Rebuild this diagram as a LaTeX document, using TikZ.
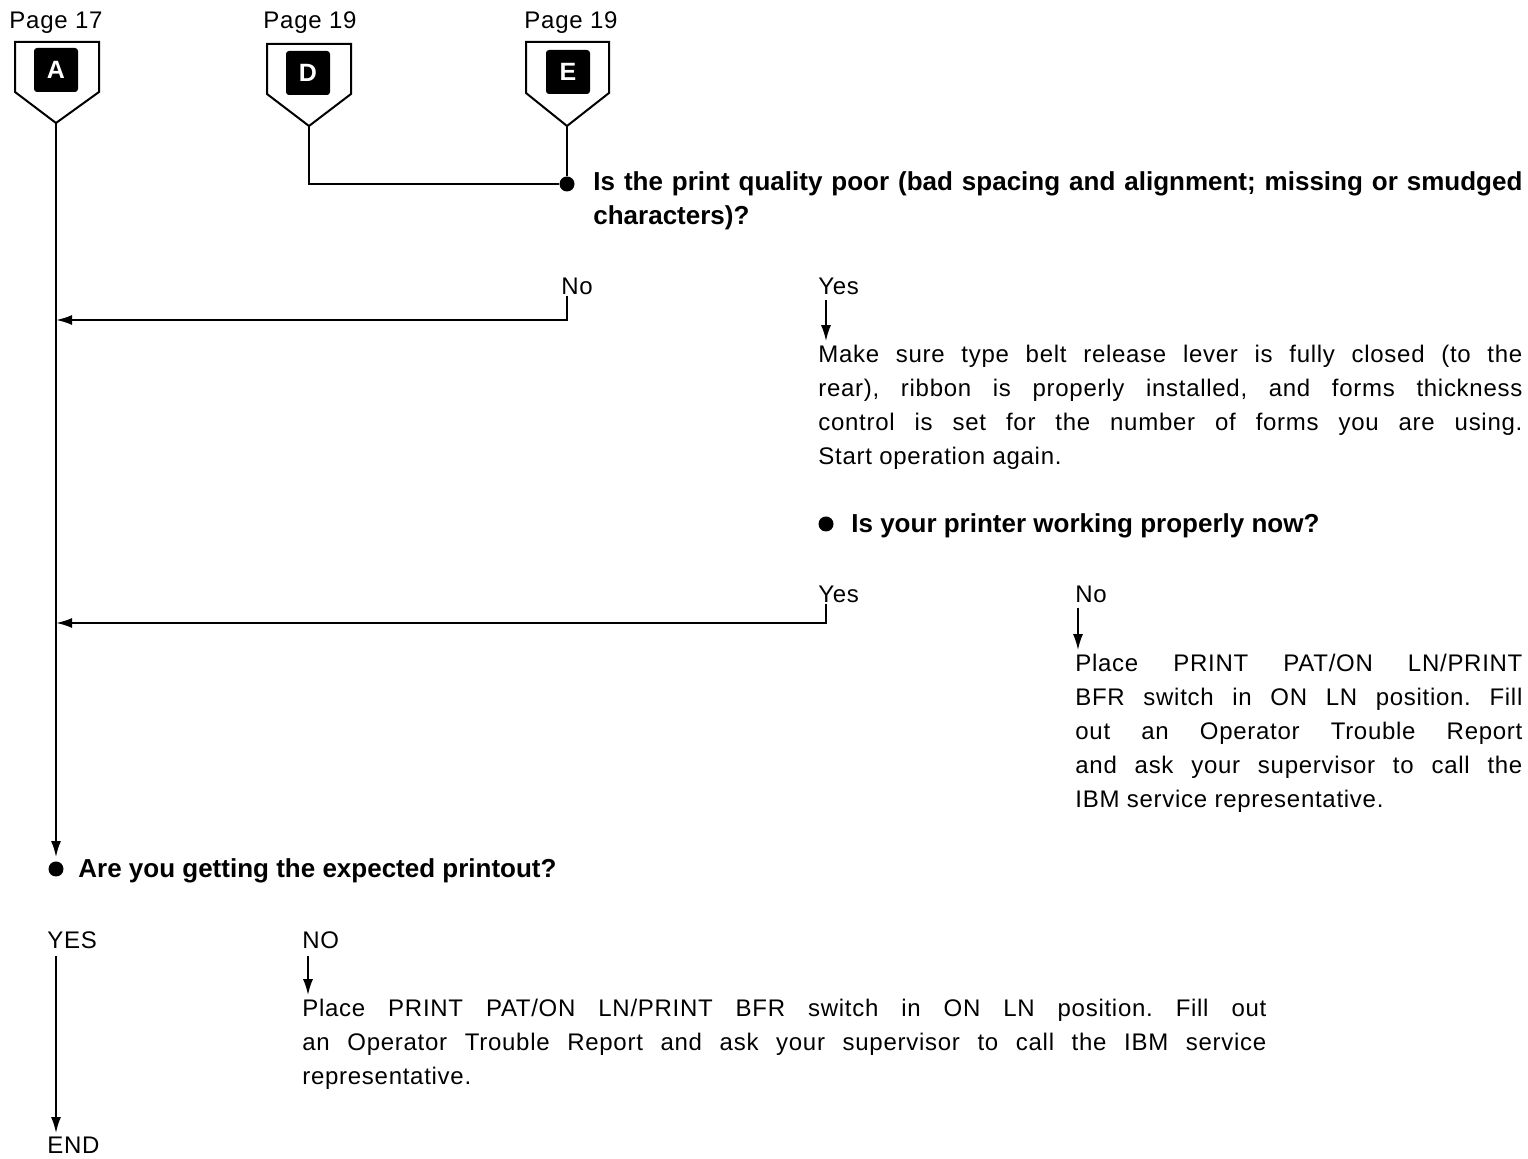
\documentclass[tikz,border=0pt]{standalone}
\usepackage{fontspec}
\setmainfont{Liberation Sans}
\usetikzlibrary{arrows.meta}
\frenchspacing
\tikzset{every node/.style={inner sep=0pt}}
\tikzset{txt/.style={font=\fontsize{12}{17}\selectfont\addfontfeature{LetterSpace=3},anchor=base west}}
\tikzset{qtxt/.style={font=\fontsize{13}{17}\selectfont\bfseries,anchor=base west}}
\tikzset{para/.style={txt,align=justify}}
\tikzset{letterbox/.style={fill=black,text=white,minimum size=22pt,rounded corners=1.5pt,font=\fontsize{12.5}{12.5}\selectfont\bfseries}}
\tikzset{dot/.style={circle,fill=black,minimum size=7.5pt}}
\tikzset{line/.style={line width=1pt}}
\tikzset{flow/.style={line width=1pt,-{Latex[length=8pt,width=5pt]},shorten >=2pt}}

\begin{document}
\begin{tikzpicture}[x=0.5pt,y=-0.5pt]
\useasboundingbox (0,0) rectangle (1528,1159);
% off-page connectors
\node[txt,anchor=base] (pa) at (56,29) {Page 17};
\node[txt,anchor=base] (pd) at (310,29) {Page 19};
\node[txt,anchor=base] (pe) at (571,29) {Page 19};
\draw[line] (15,42) -- (99,42) -- (99,92) -- (56,123) coordinate (A) -- (15,92) -- cycle;
\draw[line] (267,44) -- (351,44) -- (351,94) -- (309,126) coordinate (D) -- (267,94) -- cycle;
\draw[line] (526,42) -- (609,42) -- (609,93) -- (567,126) coordinate (E) -- (526,93) -- cycle;
\node[letterbox] (la) at (56,70) {A};
\node[letterbox] (ld) at (308,73) {D};
\node[letterbox] (le) at (568,72) {E};
% first question
\node[dot] (q1dot) at (567,184) {};
\node[qtxt,text width=464.5pt,align=justify] (q1) at (593,191) {Is the print quality poor (bad spacing and alignment; missing or smudged\linebreak characters)?};
\draw[line] (D) -- (D |- q1dot) -- (q1dot);
\draw[line] (E) -- (q1dot);
\node[txt] (no1) at (561,295) {No};
\node[txt] (yes1) at (818,295) {Yes};
\coordinate (m1) at (56,320);
\draw[flow,shorten >=0pt] (q1dot |- no1.south) -- (q1dot |- m1) -- (m1);
\node[para,text width=352pt] (p1) at (818,363) {Make sure type belt release lever is fully closed (to the\linebreak rear), ribbon is properly installed, and forms thickness\linebreak control is set for the number of forms you are using.\linebreak Start operation again.};
\draw[flow,shorten <=2pt] (826,0 |- yes1.south) -- (826,0 |- p1.north);
% second question
\node[dot] (q2dot) at (826,524) {};
\node[qtxt] (q2) at (851,533) {Is your printer working properly now?};
\node[txt] (yes2) at (818,603) {Yes};
\node[txt] (no2) at (1075,603) {No};
\coordinate (m2) at (56,623);
\draw[flow,shorten >=0pt] (q2dot |- yes2.south) -- (q2dot |- m2) -- (m2);
\node[para,text width=223.5pt] (p2) at (1075,672) {Place PRINT PAT/ON LN/PRINT\linebreak BFR switch in ON LN position. Fill\linebreak out an Operator Trouble Report\linebreak and ask your supervisor to call the\linebreak IBM service representative.};
\draw[flow,shorten <=2pt] (1078,0 |- no2.south) -- (1078,0 |- p2.north);
% third question
\node[dot] (q3dot) at (56,869) {};
\node[qtxt] (q3) at (78,878) {Are you getting the expected printout?};
\draw[flow] (A) -- (q3dot);
\node[txt] (yes3) at (47,949) {YES};
\node[txt] (no3) at (302,949) {NO};
\node[txt] (endn) at (47,1154) {END};
\draw[flow,shorten <=3pt] (A |- yes3.south) -- (A |- endn.north);
\node[para,text width=482pt] (p3) at (302,1017) {Place PRINT PAT/ON LN/PRINT BFR switch in ON LN position. Fill out\linebreak an Operator Trouble Report and ask your supervisor to call the IBM service\linebreak representative.};
\draw[flow,shorten <=3pt] (308,0 |- no3.south) -- (308,0 |- p3.north);
\end{tikzpicture}
\end{document}
